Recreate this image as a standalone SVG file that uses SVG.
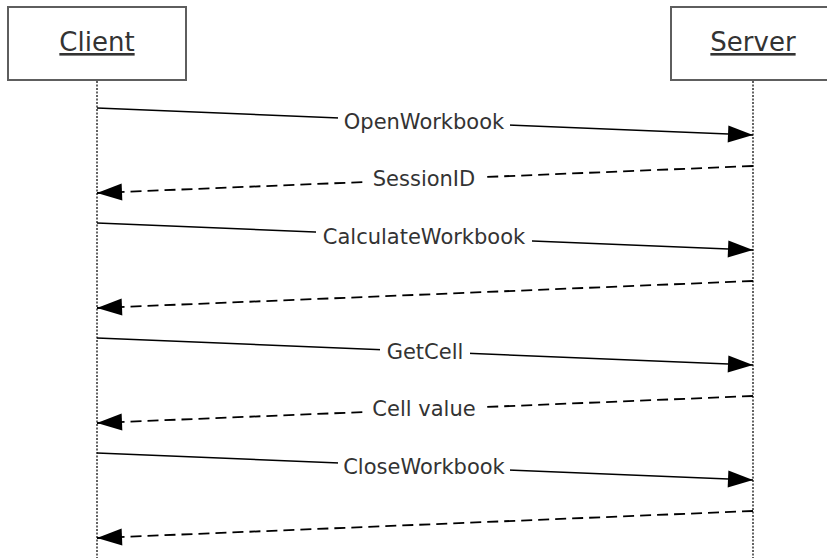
<svg xmlns="http://www.w3.org/2000/svg" width="827" height="558" viewBox="0 0 827 558">
<style>
.box{fill:#fff;stroke:#5e5e5e;stroke-width:2}
.hdr{font-family:"DejaVu Sans",Verdana,sans-serif;font-size:26px;fill:#333;text-anchor:middle;text-decoration:underline}
.life{stroke:#222;stroke-width:1.4;stroke-dasharray:2 1.5;fill:none}
.msg{stroke:#000;stroke-width:1.5;fill:none;marker-end:url(#ah)}
.ret{stroke:#000;stroke-width:1.8;stroke-dasharray:11 6;fill:none;marker-end:url(#ah)}
.lbl{font-family:"DejaVu Sans",Verdana,sans-serif;font-size:21px;fill:#333;text-anchor:middle}
.bg{fill:#fff;stroke:none}
</style>
<defs>
<marker id="ah" markerUnits="userSpaceOnUse" markerWidth="25" markerHeight="17" refX="25" refY="8.5" orient="auto" overflow="visible">
<path d="M0,0 L25,8.5 L0,17 z" fill="#000"/>
</marker>
</defs>
<rect width="827" height="558" fill="#fff"/>
<g id="client">
<rect class="box" x="8" y="7" width="178" height="73"/>
<line class="life" x1="97" y1="81" x2="97" y2="558"/>
<text class="hdr" x="97" y="51">Client</text>
</g>
<g id="server">
<rect class="box" x="671" y="7" width="180" height="73"/>
<line class="life" x1="753" y1="81" x2="753" y2="558"/>
<text class="hdr" x="753" y="51">Server</text>
</g>
<g id="connectors">
<g id="m1">
<line class="msg" x1="97" y1="108" x2="753" y2="135"/>
<rect class="bg" x="338" y="110" width="172" height="24"/>
<text class="lbl" x="424" y="129">OpenWorkbook</text>
</g>
<g id="m2">
<line class="ret" x1="753" y1="166" x2="97" y2="193"/>
<rect class="bg" x="366" y="168" width="116" height="24"/>
<text class="lbl" x="424" y="186">SessionID</text>
</g>
<g id="m3">
<line class="msg" x1="97" y1="223" x2="753" y2="250"/>
<rect class="bg" x="316" y="225" width="216" height="24"/>
<text class="lbl" x="424" y="244">CalculateWorkbook</text>
</g>
<g id="m4">
<line class="ret" x1="753" y1="281" x2="97" y2="308"/>
</g>
<g id="m5">
<line class="msg" x1="97" y1="338" x2="753" y2="365"/>
<rect class="bg" x="380" y="340" width="90" height="24"/>
<text class="lbl" x="425" y="359">GetCell</text>
</g>
<g id="m6">
<line class="ret" x1="753" y1="396" x2="97" y2="423"/>
<rect class="bg" x="366" y="398" width="116" height="24"/>
<text class="lbl" x="424" y="416">Cell value</text>
</g>
<g id="m7">
<line class="msg" x1="97" y1="453" x2="753" y2="480"/>
<rect class="bg" x="338" y="455" width="172" height="24"/>
<text class="lbl" x="424" y="474">CloseWorkbook</text>
</g>
<g id="m8">
<line class="ret" x1="753" y1="511" x2="97" y2="538"/>
</g>
</g>
</svg>
